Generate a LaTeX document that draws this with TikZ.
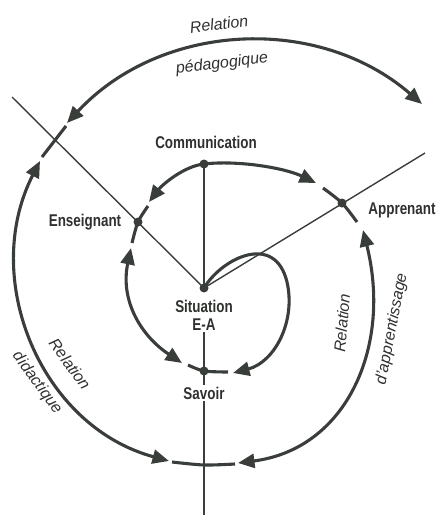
\documentclass[tikz,border=0pt]{standalone}
\usepackage{fontspec}
\setmainfont{Liberation Sans}
\newfontfamily\condfont[FakeStretch=0.79]{Liberation Sans}
\usetikzlibrary{arrows.meta}
\definecolor{ink}{HTML}{3A3E3A}
\definecolor{inktext}{HTML}{2E312E}
\begin{document}
\begin{tikzpicture}[x=1pt,y=-1pt,
  thinline/.style={draw=ink,line width=1.4pt},
  flow/.style={draw=ink,line width=3.1pt},
  twoway/.style={flow,arrows={Triangle[length=16.5pt,width=14pt]-Triangle[length=16.5pt,width=14pt]}},
  oneway/.style={flow,arrows={-Triangle[length=16.5pt,width=14pt]}},
  dot/.style={circle,fill=ink,inner sep=0pt,minimum size=9pt},
  pole/.style={font=\condfont\bfseries\fontsize{17}{18}\selectfont,text=inktext,inner sep=2pt},
  rel/.style={font=\itshape\fontsize{16}{18}\selectfont,text=inktext,inner sep=0pt},
]
\useasboundingbox (0,0) rectangle (439,515);

% poles of the triangle
\node[dot] (comm) at (204,164) {};
\node[dot] (ens)  at (138,222) {};
\node[dot] (app)  at (342,203) {};
\node[dot] (sit)  at (204,288) {};
\node[dot] (sav)  at (204,371) {};

\coordinate (nw)    at (12,97);
\coordinate (ne)    at (425,153);
\coordinate (south) at (204,515);

% labels
\node[pole] (commlab) at (206,142) {Communication};
\node[pole] (enslab)  at (85,222)  {Enseignant};
\node[pole] (applab)  at (402,210) {Apprenant};
\node[pole,align=center] (sitlab) at (204,315) {Situation\\E-A};
\node[pole] (savlab)  at (204,393) {Savoir};

% thin axes
\draw[thinline] (nw) -- (sit.center);
\draw[thinline] (sit.center) -- (ne);
\draw[thinline] (comm.center) -- (sit.center);
\draw[thinline] (sitlab) -- (sav.center) -- (savlab);
\draw[thinline] (savlab) -- (south);

% short strokes across the axes
\coordinate (s1a) at (66,126);
\coordinate (s1b) at (42,157);
\draw[flow] (s1a) -- (s1b);
\draw[flow] plot[smooth] coordinates {(148,206) (ens) (132,243)};
\draw[flow] plot[smooth] coordinates {(323,188) (app) (357,222)};
\draw[flow] plot[smooth] coordinates {(188,365) (sav) (228,372)};
\draw[flow] plot[smooth] coordinates {(172,462) (204,465) (235,464)};

% relation pedagogique
\coordinate (pedL) at (67,123);
\coordinate (pedR) at (422,104);
\draw[twoway] (pedL) .. controls (161,22) and (318,14) .. (pedR);

% relation didactique
\coordinate (didT) at (40,161);
\coordinate (didB) at (169,461);
\draw[twoway] (didT) .. controls (-20,278) and (40,426) .. (didB);

% relation d'apprentissage
\coordinate (appT) at (363,230);
\coordinate (appB) at (238,463);
\draw[twoway] (appT) .. controls (392,346) and (347,449) .. (appB);

% inner arc Enseignant - Savoir
\coordinate (inT) at (131,248);
\coordinate (inB) at (182,363);
\draw[twoway] (inT) .. controls (120,300) and (140.5,335.5) .. (inB);

% communication arc
\coordinate (comL) at (149,202);
\coordinate (comR) at (316,183);
\draw[twoway] (comL) .. controls (162,185) and (184,166) .. (comm.center)
  .. controls (238,160) and (285,168) .. (comR);

% loop from the situation to the knowledge
\coordinate (loopR) at (287,282);
\coordinate (loopE) at (233,373);
\draw[oneway] (sit.center) .. controls (222,258) and (275,232) .. (loopR)
  .. controls (296,321) and (275,362) .. (loopE);

% relation names
\node[rel,rotate=7] (r1) at (219,24) {Relation};
\node[rel,rotate=7] (r2) at (222,64) {pédagogique};
\node[rel,rotate=-54] (r3) at (70,364) {Relation};
\node[rel,rotate=-54] (r4) at (37,383) {didactique};
\node[rel,rotate=85] (r5) at (342,323) {Relation};
\node[rel,rotate=79] (r6) at (392,329) {d'apprentissage};
\end{tikzpicture}
\end{document}
